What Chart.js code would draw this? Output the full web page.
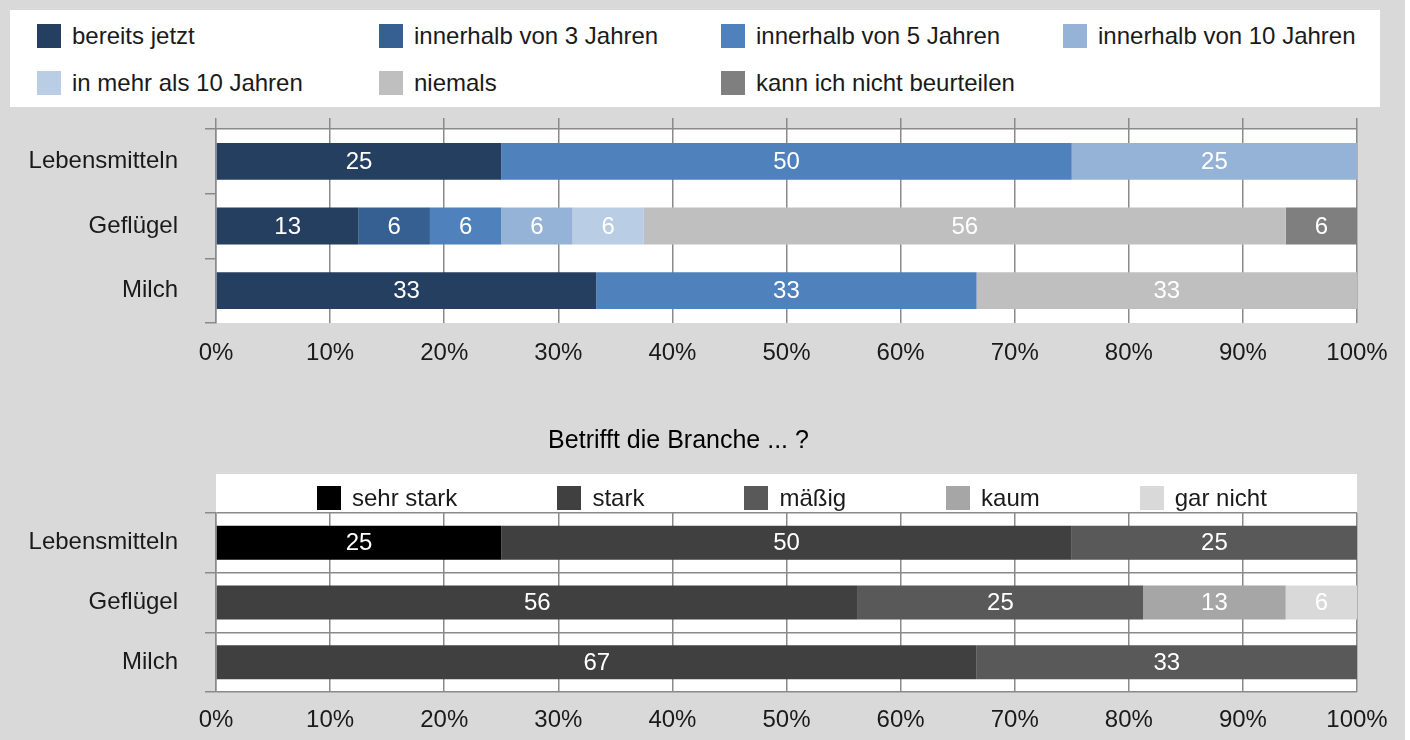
<!DOCTYPE html>
<html>
<head>
<meta charset="utf-8">
<script src="https://cdn.jsdelivr.net/npm/chart.js@4.4.1/dist/chart.umd.min.js"></script>
<style>
    html, body { margin: 0; padding: 0; background: #fff; }
    #page { position: relative; width: 1405px; height: 740px; background: #d9d9d9; font-family: "Liberation Sans", Arial, sans-serif; color: #1a1a1a; }
    #legend-top { position: absolute; left: 10px; top: 10px; width: 1370px; height: 97px; background: #fff; }
    #legend-top .grid { position: absolute; left: 27px; top: 14px; display: grid; grid-template-columns: repeat(4, 342px); row-gap: 23px; }
    #legend-bottom { position: absolute; left: 317px; top: 486px; display: flex; gap: 100px; }
    .item { display: flex; align-items: center; height: 24px; font-size: 24px; line-height: 24px; white-space: nowrap; }
    .item .box { width: 24px; height: 24px; margin-right: 11px; flex: none; }
    canvas { position: absolute; left: 0; }
    #chart-top { top: 107px; }
    #chart-bottom { top: 400px; }
</style>
</head>
<body>
<div id="page">
    <div id="legend-top"><div class="grid"></div></div>
    <canvas id="chart-top" width="1410" height="261"></canvas>
    <canvas id="chart-bottom" width="1410" height="335"></canvas>
    <div id="legend-bottom"></div>
</div>
<script>
// categories and ticks
const categories = ['Lebensmitteln', 'Geflügel', 'Milch'];
const percentTicks = ['0%', '10%', '20%', '30%', '40%', '50%', '60%', '70%', '80%', '90%', '100%'];

// top chart: wann
const timingLabels = ['bereits jetzt', 'innerhalb von 3 Jahren', 'innerhalb von 5 Jahren', 'innerhalb von 10 Jahren',
    'in mehr als 10 Jahren', 'niemals', 'kann ich nicht beurteilen'];
const timingColors = ['#243f60', '#366092', '#4f81bd', '#95b3d7', '#b9cde5', '#bfbfbf', '#7f7f7f'];
const bereitsJetzt = [25, 12.5, 33.33];
const in3Jahren = [0, 6.25, 0];
const in5Jahren = [50, 6.25, 33.33];
const in10Jahren = [25, 6.25, 0];
const mehrAls10 = [0, 6.25, 0];
const niemals = [0, 56.25, 33.34];
const nichtBeurteilen = [0, 6.25, 0];

// bottom chart: Betrifft die Branche
const impactLabels = ['sehr stark', 'stark', 'mäßig', 'kaum', 'gar nicht'];
const impactColors = ['#000000', '#404040', '#595959', '#a6a6a6', '#d9d9d9'];
const sehrStark = [25, 0, 0];
const stark = [50, 56.25, 66.67];
const maessig = [25, 25, 33.33];
const kaum = [0, 12.5, 0];
const garNicht = [0, 6.25, 0];

const FONT = '"Liberation Sans", Arial, sans-serif';
const GRID = '#8a8a8a';

Chart.defaults.font.family = FONT;
Chart.defaults.font.size = 24;
Chart.defaults.color = '#1a1a1a';
Chart.defaults.animation = false;

// white numbers in the middle of each segment
const valueLabels = {
    id: 'valueLabels',
    afterDatasetsDraw(chart) {
        const ctx = chart.ctx;
        ctx.save();
        ctx.font = '24px ' + FONT;
        ctx.fillStyle = '#fff';
        ctx.textAlign = 'center';
        ctx.textBaseline = 'middle';
        chart.data.datasets.forEach((ds, i) => {
            chart.getDatasetMeta(i).data.forEach((bar, j) => {
                const v = ds.data[j];
                if (!v) return;
                const p = bar.getCenterPoint();
                ctx.fillText(Math.round(v), p.x, p.y + 1);
            });
        });
        ctx.restore();
    }
};

// white background behind plot (and legend strip for bottom chart)
const plotBackground = {
    id: 'plotBackground',
    beforeDraw(chart, args, opts) {
        const a = chart.chartArea;
        const extra = opts.extraTop || 0;
        const ctx = chart.ctx;
        ctx.save();
        ctx.fillStyle = '#fff';
        ctx.fillRect(a.left, a.top - extra, a.right - a.left, a.bottom - a.top + extra);
        ctx.restore();
    }
};

function makeDatasets(series, labels, colors) {
    return series.map((data, i) => ({
        label: labels[i],
        data: data,
        backgroundColor: colors[i],
        borderWidth: 0,
        barPercentage: 0.57,
        categoryPercentage: 1
    }));
}

function xScale(padding, height) {
    return {
        type: 'linear', stacked: true, min: 0, max: 100,
        ticks: { stepSize: 10, padding: padding, maxRotation: 0, callback: (v, i) => percentTicks[i] },
        grid: { color: GRID, lineWidth: 1.5, drawTicks: false },
        border: { display: false },
        afterFit(scale) { scale.height = height; }
    };
}

function yScale(onArea) {
    return {
        type: 'category', stacked: true, offset: true,
        grid: { offset: true, color: GRID, lineWidth: 1.5, tickLength: 11, drawOnChartArea: onArea },
        border: { display: true, color: GRID, width: 1.5 },
        ticks: { padding: 27 },
        afterFit(scale) {
            scale.width = 216;
            scale.paddingTop = 0;
            scale.paddingBottom = 0;
        }
    };
}

function buildLegend(container, labels, colors) {
    labels.forEach((label, i) => {
        const item = document.createElement('div');
        item.className = 'item';
        item.innerHTML = `<span class="box" style="background:${colors[i]}"></span><span>${label}</span>`;
        container.appendChild(item);
    });
}

buildLegend(document.querySelector('#legend-top .grid'), timingLabels, timingColors);
buildLegend(document.getElementById('legend-bottom'), impactLabels, impactColors);

new Chart(document.getElementById('chart-top'), {
    type: 'bar',
    data: {
        labels: categories,
        datasets: makeDatasets([bereitsJetzt, in3Jahren, in5Jahren, in10Jahren, mehrAls10, niemals, nichtBeurteilen],
            timingLabels, timingColors)
    },
    options: {
        indexAxis: 'y',
        responsive: false,
        layout: { padding: { top: 11, right: 53, left: 0, bottom: 0 } },
        plugins: { legend: { display: false }, tooltip: { enabled: false }, plotBackground: {} },
        scales: {
            x: xScale(16, 45),
            x2: {
                type: 'linear', position: 'top', min: 0, max: 100,
                ticks: { display: false, stepSize: 10 },
                grid: { color: GRID, lineWidth: 1.5, tickLength: 11, drawOnChartArea: false },
                border: { display: true, color: GRID, width: 1.5 },
                afterFit(scale) { scale.height = 11; }
            },
            y: yScale(false)
        }
    },
    plugins: [plotBackground, valueLabels]
});

new Chart(document.getElementById('chart-bottom'), {
    type: 'bar',
    data: {
        labels: categories,
        datasets: makeDatasets([sehrStark, stark, maessig, kaum, garNicht], impactLabels, impactColors)
    },
    options: {
        indexAxis: 'y',
        responsive: false,
        layout: { padding: { top: 0, right: 53, left: 0, bottom: 0 } },
        plugins: {
            legend: { display: false },
            tooltip: { enabled: false },
            title: {
                display: true,
                text: 'Betrifft die Branche ... ?',
                color: '#000',
                font: { size: 25, weight: 'normal' },
                padding: { top: 26, bottom: 57 }
            },
            plotBackground: { extraTop: 39 }
        },
        scales: {
            x: xScale(14, 43),
            y: yScale(true)
        }
    },
    plugins: [plotBackground, valueLabels]
});
</script>
</body>
</html>
